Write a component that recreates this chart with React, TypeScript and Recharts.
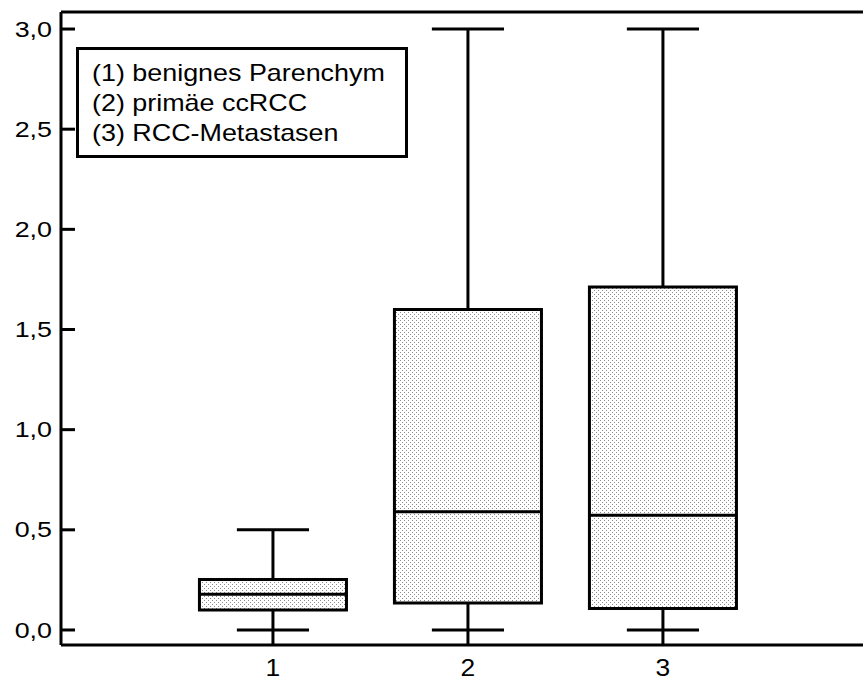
import { ComposedChart, XAxis, YAxis, ReferenceArea, ReferenceLine, Scatter, Legend } from "recharts";

const GROUPS = [1, 2, 3];
const MINS = [0, 0, 0];
const Q1S = [0.1, 0.135, 0.107];
const MEDIANS = [0.178, 0.59, 0.573];
const Q3S = [0.252, 1.6, 1.712];
const MAXS = [0.5, 3.0, 3.0];
const Y_TICKS = [0, 0.5, 1, 1.5, 2, 2.5, 3];
const LEGEND_LABELS = ["(1) benignes Parenchym", "(2) primäe ccRCC", "(3) RCC-Metastasen"];

const Y_DOMAIN: [number, number] = [-0.075, 3.085];
const X_DOMAIN: [number, number] = [-0.087, 4.026];
const BOX_HALF = 0.377;
const CAP_HALF = 0.185;
const FONT = '"Liberation Sans", Arial, sans-serif';

const boxes = GROUPS.map((g, i) => ({
  x: g,
  min: MINS[i],
  q1: Q1S[i],
  median: MEDIANS[i],
  q3: Q3S[i],
  max: MAXS[i],
}));

const YTick = ({ x, y, payload }: any) => (
  <text
    transform={`translate(${x},${y}) scale(1.22,1)`}
    textAnchor="end"
    dominantBaseline="central"
    fontSize={22}
    fontFamily={FONT}
    fill="#000"
  >
    {payload.value.toFixed(1).replace(".", ",")}
  </text>
);

const XTick = ({ x, y, payload }: any) => (
  <text
    transform={`translate(${x},${y}) scale(1.1,1)`}
    textAnchor="middle"
    dominantBaseline="central"
    fontSize={24}
    fontFamily={FONT}
    fill="#000"
  >
    {payload.value}
  </text>
);

function LegendBox() {
  return (
    <div
      style={{
        width: 332,
        height: 111,
        boxSizing: "border-box",
        border: "3px solid #000",
        background: "#fff",
        padding: "8px 0 0 13px",
        fontFamily: FONT,
        fontSize: 24,
        lineHeight: "30px",
        color: "#000",
      }}
    >
      {LEGEND_LABELS.map((l) => (
        <div key={l} style={{ whiteSpace: "nowrap", transform: "scaleX(1.12)", transformOrigin: "left" }}>
          {l}
        </div>
      ))}
    </div>
  );
}

const seg = (key: string, x1: number, y1: number, x2: number, y2: number) => (
  <ReferenceLine
    key={key}
    ifOverflow="visible"
    segment={[
      { x: x1, y: y1 },
      { x: x2, y: y2 },
    ]}
    stroke="#000"
    strokeWidth={3}
  />
);

export default function App() {
  return (
    <div style={{ position: "absolute", left: 0, top: 0, background: "#fff" }}>
      <ComposedChart width={863} height={680} margin={{ top: 12, right: 0, bottom: 0, left: 0 }}>
        <defs>
          <pattern id="dots" width="4" height="4" patternUnits="userSpaceOnUse">
            <rect width="4" height="4" fill="#fff" />
            <rect x="0" y="0" width="1" height="1" fill="#8a8a8a" />
            <rect x="2" y="2" width="1" height="1" fill="#8a8a8a" />
          </pattern>
        </defs>
        {/* negative tickSize draws the tick marks inside the plot */}
        <XAxis
          type="number"
          dataKey="x"
          domain={X_DOMAIN}
          ticks={GROUPS}
          allowDataOverflow
          height={35}
          tickSize={-14}
          tickMargin={36}
          tickLine={{ stroke: "#000", strokeWidth: 3 }}
          axisLine={{ stroke: "#000", strokeWidth: 3 }}
          tick={<XTick />}
        />
        <YAxis
          type="number"
          domain={Y_DOMAIN}
          ticks={Y_TICKS}
          allowDataOverflow
          width={61}
          tickSize={-14}
          tickMargin={23}
          tickLine={{ stroke: "#000", strokeWidth: 3 }}
          axisLine={{ stroke: "#000", strokeWidth: 3 }}
          tick={<YTick />}
        />
        <ReferenceLine y={Y_DOMAIN[1]} stroke="#000" strokeWidth={3} ifOverflow="visible" />
        {boxes.map((b) => (
          <ReferenceArea
            key={`box-${b.x}`}
            x1={b.x - BOX_HALF}
            x2={b.x + BOX_HALF}
            y1={b.q1}
            y2={b.q3}
            fill="url(#dots)"
            fillOpacity={1}
            stroke="#000"
            strokeWidth={3}
          />
        ))}
        {boxes.map((b) => seg(`med-${b.x}`, b.x - BOX_HALF, b.median, b.x + BOX_HALF, b.median))}
        {boxes.map((b) => seg(`wu-${b.x}`, b.x, b.q3, b.x, b.max))}
        {boxes.map((b) => seg(`wl-${b.x}`, b.x, b.min, b.x, b.q1))}
        {boxes.map((b) => seg(`cu-${b.x}`, b.x - CAP_HALF, b.max, b.x + CAP_HALF, b.max))}
        {boxes.map((b) => seg(`cl-${b.x}`, b.x - CAP_HALF, b.min, b.x + CAP_HALF, b.min))}
        <Scatter
          data={boxes}
          dataKey="median"
          legendType="none"
          isAnimationActive={false}
          shape={() => <g />}
        />
        <Legend
          layout="horizontal"
          verticalAlign="middle"
          align="center"
          content={() => <LegendBox />}
          wrapperStyle={{ left: 76, top: 47, width: "auto" }}
        />
      </ComposedChart>
    </div>
  );
}
